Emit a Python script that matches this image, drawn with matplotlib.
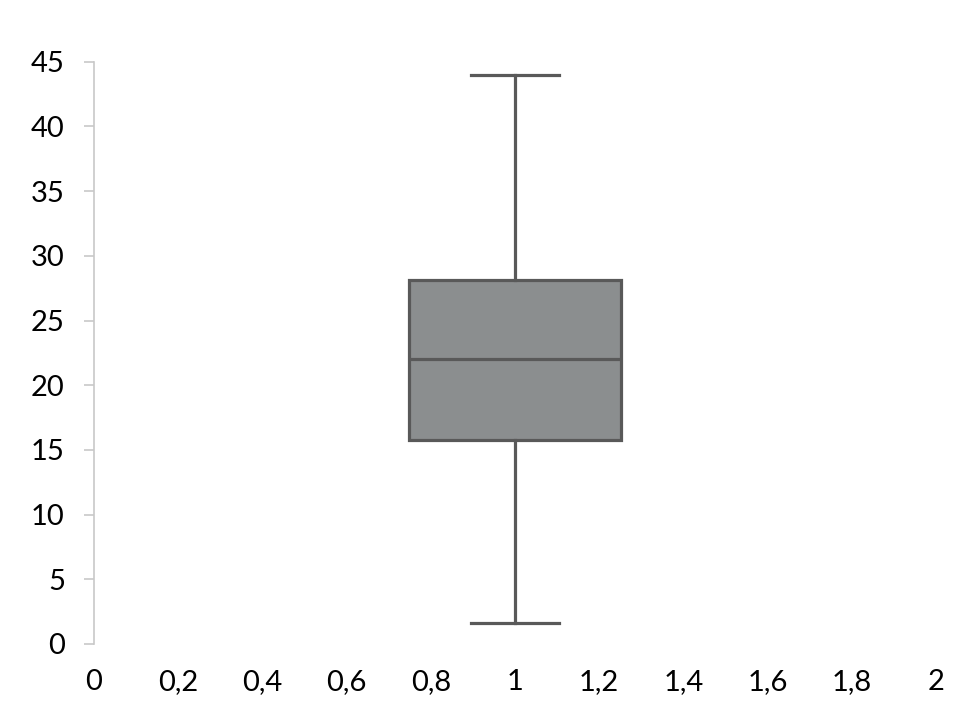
import matplotlib.pyplot as plt

# box plot summary
whisker_low = 1.6
q1 = 15.8
median = 22.0
q3 = 28.1
whisker_high = 44.0
position = 1.0

x_ticks = [0, 0.2, 0.4, 0.6, 0.8, 1, 1.2, 1.4, 1.6, 1.8, 2]
x_labels = ['0', '0,2', '0,4', '0,6', '0,8', '1', '1,2', '1,4', '1,6', '1,8', '2']
y_ticks = [0, 5, 10, 15, 20, 25, 30, 35, 40, 45]

plt.rcParams['font.family'] = ['Lato', 'DejaVu Sans']

fig = plt.figure(figsize=(9.76, 7.19), dpi=100)
ax = fig.add_axes([94 / 976, 1 - 644 / 719, 842 / 976, (644 - 61.7) / 719])

edge = '#595959'
stats = [{'whislo': whisker_low, 'q1': q1, 'med': median, 'q3': q3, 'whishi': whisker_high, 'fliers': []}]
ax.bxp(stats, positions=[position], widths=0.505, patch_artist=True, showfliers=False,
       boxprops=dict(facecolor='#8b8e8f', edgecolor=edge, linewidth=2.3),
       medianprops=dict(color=edge, linewidth=2.3),
       whiskerprops=dict(color=edge, linewidth=2.3),
       capprops=dict(color=edge, linewidth=2.3),
       capwidths=0.21)

ax.set_xlim(0, 2)
ax.set_ylim(0, 45)
ax.set_xticks(x_ticks)
ax.set_xticklabels(x_labels)
ax.set_yticks(y_ticks)

for s in ['top', 'right', 'bottom']:
    ax.spines[s].set_visible(False)
ax.spines['left'].set_color('#c8c8c8')
ax.spines['left'].set_linewidth(1.2)

ax.tick_params(axis='y', colors='#c8c8c8', length=7, width=1.2, labelcolor='black', labelsize=21, pad=14)
ax.tick_params(axis='x', length=0, labelsize=21, pad=18, labelcolor='black')

fig.savefig('out.png', dpi=100)
